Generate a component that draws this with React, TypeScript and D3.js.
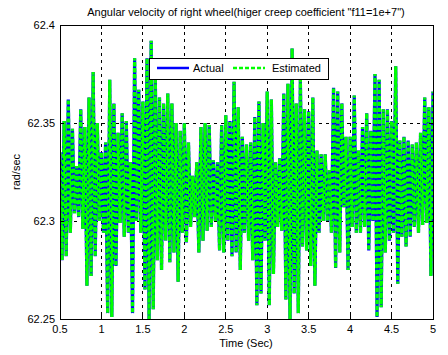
import React from "react";
import * as d3 from "d3";

const T0 = 0.5;
const DT = 0.025;
// Actual angular velocity samples (rad/sec), one every 0.025 s from 0.5 s to 5 s
const actual: number[] = [
  62.335, 62.280, 62.351, 62.282, 62.362, 62.294, 62.347, 62.304,
  62.328, 62.302, 62.357, 62.296, 62.348, 62.267, 62.363, 62.272,
  62.376, 62.282, 62.350, 62.300, 62.335, 62.294, 62.340, 62.253,
  62.372, 62.251, 62.360, 62.277, 62.345, 62.299, 62.355, 62.292,
  62.351, 62.294, 62.330, 62.253, 62.383, 62.300, 62.367, 62.294,
  62.361, 62.265, 62.383, 62.249, 62.392, 62.255, 62.373, 62.280,
  62.363, 62.275, 62.360, 62.290, 62.365, 62.279, 62.360, 62.284,
  62.350, 62.269, 62.346, 62.294, 62.350, 62.289, 62.340, 62.297,
  62.323, 62.302, 62.330, 62.284, 62.348, 62.290, 62.350, 62.295,
  62.349, 62.297, 62.331, 62.300, 62.330, 62.285, 62.349, 62.284,
  62.354, 62.290, 62.351, 62.282, 62.371, 62.284, 62.358, 62.275,
  62.343, 62.294, 62.339, 62.290, 62.340, 62.280, 62.353, 62.257,
  62.361, 62.263, 62.350, 62.290, 62.366, 62.257, 62.362, 62.273,
  62.330, 62.297, 62.332, 62.295, 62.365, 62.260, 62.370, 62.249,
  62.388, 62.263, 62.360, 62.253, 62.372, 62.287, 62.357, 62.285,
  62.356, 62.277, 62.363, 62.267, 62.336, 62.294, 62.334, 62.300,
  62.334, 62.300, 62.326, 62.294, 62.368, 62.276, 62.366, 62.284,
  62.360, 62.307, 62.343, 62.275, 62.343, 62.297, 62.364, 62.294,
  62.336, 62.294, 62.348, 62.297, 62.355, 62.285, 62.346, 62.300,
  62.375, 62.251, 62.372, 62.256, 62.357, 62.284, 62.357, 62.290,
  62.351, 62.294, 62.379, 62.268, 62.341, 62.292, 62.343, 62.287,
  62.341, 62.292, 62.339, 62.297, 62.340, 62.294, 62.345, 62.298,
  62.363, 62.299, 62.358, 62.272, 62.366,
];
// Estimated values track the actual ones
const estimated: number[] = actual.slice();

const xTicks = [0.5, 1, 1.5, 2, 2.5, 3, 3.5, 4, 4.5, 5];
const yTicks = [62.25, 62.3, 62.35, 62.4];
const yTickLabels = ["62.25", "62.3", "62.35", "62.4"];

const W = 448, H = 355;
const L = 60, R = 433, TOP = 25, B = 319;
const FONT = "Arial, 'Liberation Sans', sans-serif";

export default function App() {
  const x = d3.scaleLinear().domain([0.5, 5]).range([L, R]);
  const y = d3.scaleLinear().domain([62.25, 62.4]).range([B, TOP]);
  const line = d3
    .line<number>()
    .x((_, i) => x(T0 + i * DT))
    .y((v) => y(v));

  return (
    <svg width={W} height={H} style={{ position: "absolute", left: 0, top: 0, background: "#fff" }}>
      <defs>
        <clipPath id="plot">
          <rect x={L} y={TOP} width={R - L} height={B - TOP} />
        </clipPath>
      </defs>
      <rect x={0} y={0} width={W} height={H} fill="#fff" />
      {xTicks.slice(1, -1).map((t) => (
        <line key={"gx" + t} x1={x(t)} x2={x(t)} y1={TOP} y2={B} stroke="#000" strokeWidth={1} strokeDasharray="3,4" shapeRendering="crispEdges" />
      ))}
      {yTicks.slice(1, -1).map((t) => (
        <line key={"gy" + t} x1={L} x2={R} y1={y(t)} y2={y(t)} stroke="#000" strokeWidth={1} strokeDasharray="3,4" shapeRendering="crispEdges" />
      ))}
      <g clipPath="url(#plot)">
        <path d={line(actual) || ""} fill="none" stroke="#0000ff" strokeWidth={3.2} strokeLinejoin="miter" strokeMiterlimit={3} />
        <path d={line(estimated) || ""} fill="none" stroke="#00ff00" strokeWidth={3.2} strokeDasharray="4,2" strokeMiterlimit={3} />
      </g>
      <rect x={L} y={TOP} width={R - L} height={B - TOP} fill="none" stroke="#000" strokeWidth={1} shapeRendering="crispEdges" />
      {xTicks.map((t) => (
        <g key={"tx" + t}>
          <line x1={x(t)} x2={x(t)} y1={B} y2={B - 4} stroke="#000" shapeRendering="crispEdges" />
          <line x1={x(t)} x2={x(t)} y1={TOP} y2={TOP + 4} stroke="#000" shapeRendering="crispEdges" />
          <text x={x(t)} y={333} textAnchor="middle" fontFamily={FONT} fontSize={11} fill="#000">{String(t)}</text>
        </g>
      ))}
      {yTicks.map((t, i) => (
        <g key={"ty" + t}>
          <line x1={L} x2={L + 4} y1={y(t)} y2={y(t)} stroke="#000" shapeRendering="crispEdges" />
          <line x1={R} x2={R - 4} y1={y(t)} y2={y(t)} stroke="#000" shapeRendering="crispEdges" />
          <text x={55} y={y(t) + 4} textAnchor="end" fontFamily={FONT} fontSize={11} fill="#000">{yTickLabels[i]}</text>
        </g>
      ))}
      <text x={246} y={16} textAnchor="middle" fontFamily={FONT} fontSize={11} fill="#000">
        Angular velocity of right wheel(higer creep coefficient "f11=1e+7")
      </text>
      <text x={246} y={347} textAnchor="middle" fontFamily={FONT} fontSize={11} fill="#000">Time (Sec)</text>
      <text transform={`translate(20,${(TOP + B) / 2}) rotate(-90)`} textAnchor="middle" fontFamily={FONT} fontSize={11} fill="#000">rad/sec</text>
      <g>
        <rect x={149.5} y={58.5} width={179} height={21} fill="#fff" stroke="#000" strokeWidth={1} />
        <line x1={157} x2={189} y1={68} y2={68} stroke="#0000ff" strokeWidth={2.5} />
        <text x={193} y={72} fontFamily={FONT} fontSize={11} fill="#000">Actual</text>
        <line x1={233} x2={265} y1={68} y2={68} stroke="#00ff00" strokeWidth={2.5} strokeDasharray="4,2" />
        <text x={272} y={72} fontFamily={FONT} fontSize={11} fill="#000">Estimated</text>
      </g>
    </svg>
  );
}
